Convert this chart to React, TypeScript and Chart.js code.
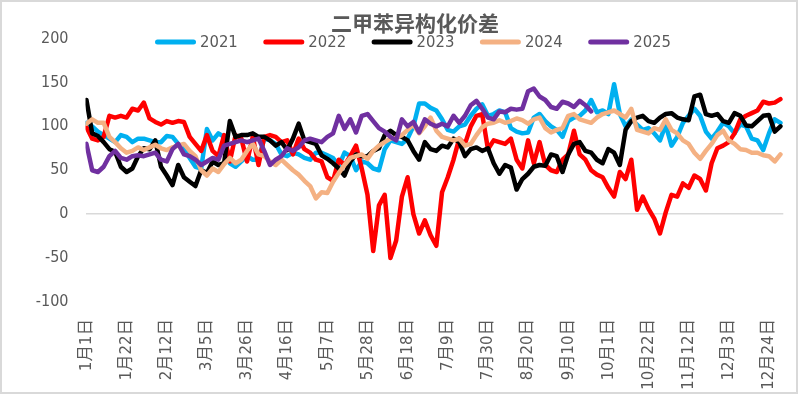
import React, { useEffect, useRef } from 'react';
import { Chart, registerables } from 'chart.js';

Chart.register(...registerables);

const TITLE = '二甲苯异构化价差';
const SERIES_NAMES = ['2021', '2022', '2023', '2024', '2025'];
const TICK_LABELS = [
  '1月1日', '1月22日', '2月12日', '3月5日', '3月26日', '4月16日', '5月7日', '5月28日', '6月18日',
  '7月9日', '7月30日', '8月20日', '9月10日', '10月1日', '10月22日', '11月12日', '12月3日', '12月24日',
];
const TICK_EVERY_DAYS = 21;
const SAMPLE_EVERY_DAYS = 3;
const DAYS_IN_YEAR = 365;

// sampled every 3 days from Jan 1
const V2021 = [
  104, 100, 94, 90, 86, 82, 90, 88, 82, 86,
  86, 84, 82, 82, 89, 88, 80, 74, 64, 54,
  52, 97, 84, 92, 88, 58, 54, 60, 66, 62,
  62, 86, 84, 80, 68, 66, 70, 68, 64, 62,
  70, 70, 67, 64, 55, 70, 66, 50, 60, 58,
  52, 50, 74, 84, 82, 80, 86, 100, 126, 126,
  121, 118, 108, 96, 94, 100, 102, 112, 120, 125,
  112, 114, 118, 116, 98, 94, 92, 93, 110, 114,
  106, 100, 96, 88, 106, 110, 112, 118, 130, 116,
  118, 114, 148, 114, 100, 108, 102, 96, 98, 92,
  84, 102, 78, 88, 104, 112, 120, 112, 94, 86,
  94, 104, 100, 92, 102, 100, 86, 84, 73, 92,
  108, 104,
];
const V2022 = [
  99, 86, 84, 88, 112, 110, 112, 110, 120, 118,
  127, 109, 105, 102, 106, 104, 106, 105, 88, 80,
  72, 90, 72, 66, 90, 60, 90, 86, 60, 88,
  56, 88, 90, 88, 82, 84, 68, 86, 74, 70,
  62, 60, 42, 38, 62, 56, 66, 78, 52, 22,
  -42, 10, 22, -50, -30, 20, 42, 0, -22, -7,
  -24, -36, 25, 42, 62, 86, 80, 100, 112, 114,
  74, 84, 82, 80, 86, 62, 52, 84, 58, 82,
  56, 50, 48, 62, 68, 95, 68, 62, 50, 45,
  42, 30, 20, 48, 40, 62, 5, 20, 6, -5,
  -22, 2, 22, 20, 35, 30, 44, 40, 27, 58,
  75, 78, 82, 92, 108, 112, 115, 118, 128, 126,
  127, 131,
];
const V2023 = [
  130, 92, 89, 82, 74, 71, 54, 48, 52, 66,
  75, 74, 84, 54, 44, 33, 56, 42, 37, 32,
  50, 47, 60, 56, 58, 106, 88, 90, 90, 92,
  88, 88, 84, 78, 82, 73, 86, 103, 84, 82,
  80, 67, 63, 58, 52, 44, 60, 68, 66, 66,
  72, 75, 90, 95, 90, 88, 84, 72, 62, 82,
  74, 72, 78, 76, 86, 82, 66, 74, 76, 72,
  75, 58, 46, 56, 53, 28, 40, 46, 54, 56,
  55, 68, 66, 48, 68, 80, 82, 72, 70, 62,
  58, 74, 70, 56, 96, 106, 110, 112, 106, 104,
  110, 114, 115, 110, 108, 107, 134, 136, 114, 112,
  114, 106, 104, 115, 112, 101, 100, 106, 112, 113,
  94, 100,
];
const V2024 = [
  103, 108, 104, 104, 88, 82, 75, 70, 72, 76,
  73, 76, 79, 75, 73, 76, 78, 80, 72, 66,
  50, 44, 52, 48, 57, 64, 58, 62, 72, 80,
  68, 66, 60, 56, 62, 56, 50, 45, 38, 32,
  18, 25, 24, 37, 47, 56, 64, 66, 68, 63,
  72, 78, 82, 86, 87, 90, 96, 102, 92, 100,
  110, 95, 88, 86, 84, 86, 78, 80, 90, 99,
  103, 104, 107, 104, 106, 109, 107, 103, 108, 110,
  98, 93, 96, 98, 112, 114, 108, 106, 104, 110,
  114, 116, 118, 114, 110, 120, 96, 94, 92, 98,
  96, 108, 96, 92, 84, 80, 70, 63, 72, 80,
  90, 95, 84, 80, 74, 73, 70, 70, 67, 66,
  60, 68,
];
const V2025 = [
  80, 50, 48, 54, 66, 72, 64, 62, 66, 67,
  66, 68, 70, 62, 60, 74, 80, 68, 66, 62,
  56, 60, 64, 62, 78, 80, 82, 84, 82, 84,
  86, 72, 56, 62, 66, 75, 72, 76, 84, 86,
  84, 82, 88, 92, 112, 97, 108, 93, 112, 114,
  106, 98, 94, 88, 84, 108, 100, 105, 93, 108,
  103, 100, 103, 100, 112, 104, 112, 124, 129, 120,
  110, 108, 117, 116, 120, 119, 120, 140, 143, 134,
  130, 122, 120, 128, 126, 122, 129, 124, 117,
];

const SERIES_VALUES = [V2021, V2022, V2023, V2024, V2025];
const COLORS = ['#00B0F0', '#FF0000', '#000000', '#F4B183', '#7030A0'];

const TEXT_COLOR = '#595959';
const NUM_FONT = '"DejaVu Sans Condensed", "Noto Sans CJK SC", sans-serif';

const titleLegendPlugin = {
  id: 'titleLegend',
  afterDraw(chart: any) {
    const ctx = chart.ctx;
    ctx.save();
    // title
    ctx.fillStyle = TEXT_COLOR;
    ctx.textAlign = 'center';
    ctx.textBaseline = 'middle';
    ctx.font = 'bold 21px "Noto Sans CJK SC", sans-serif';
    ctx.fillText(TITLE, 415, 23);
    // legend
    ctx.font = `16.5px ${NUM_FONT}`;
    ctx.textAlign = 'left';
    const y = 42;
    chart.data.datasets.forEach((ds: any, i: number) => {
      const x0 = 157.5 + i * 108.3;
      ctx.strokeStyle = ds.borderColor;
      ctx.lineWidth = 5;
      ctx.lineCap = 'round';
      ctx.beginPath();
      ctx.moveTo(x0, y);
      ctx.lineTo(x0 + 36, y);
      ctx.stroke();
      ctx.fillText(ds.label, x0 + 42.5, y + 1);
    });
    ctx.restore();
  },
};

export default function App() {
  const ref = useRef<HTMLCanvasElement | null>(null);

  useEffect(() => {
    if (!ref.current) return;
    const datasets = SERIES_NAMES.map((name, s) => ({
      label: name,
      data: SERIES_VALUES[s].map((v, i) => ({ x: i * SAMPLE_EVERY_DAYS, y: v })),
      borderColor: COLORS[s],
      backgroundColor: COLORS[s],
      borderWidth: 4.5,
      pointRadius: 0,
      tension: 0,
      borderJoinStyle: 'round' as const,
      borderCapStyle: 'round' as const,
      order: SERIES_NAMES.length - s,
    }));

    const chart = new Chart(ref.current, {
      type: 'line',
      data: { datasets },
      plugins: [titleLegendPlugin],
      options: {
        responsive: false,
        animation: false,
        devicePixelRatio: 1,
        layout: { padding: { top: 38.5, right: 11.6, left: 0, bottom: 0 } },
        plugins: {
          legend: { display: false },
          tooltip: { enabled: false },
          title: { display: false },
        },
        scales: {
          x: {
            type: 'linear',
            min: -0.5,
            max: DAYS_IN_YEAR - 0.5,
            grid: { display: false },
            border: { display: false },
            afterBuildTicks: (scale: any) => {
              scale.ticks = TICK_LABELS.map((_, i) => ({ value: i * TICK_EVERY_DAYS }));
            },
            afterFit: (scale: any) => {
              scale.height = 92;
            },
            ticks: {
              autoSkip: false,
              minRotation: 90,
              maxRotation: 90,
              padding: 9,
              color: TEXT_COLOR,
              font: { family: NUM_FONT, size: 16.5 },
              callback: (_v: any, i: number) => TICK_LABELS[i],
            },
          },
          y: {
            min: -100,
            max: 200,
            afterFit: (scale: any) => {
              scale.width = 85.5;
            },
            grid: {
              drawTicks: false,
              color: (c: any) => (c.tick && c.tick.value === 0 ? '#D9D9D9' : 'rgba(0,0,0,0)'),
              lineWidth: 1.5,
            },
            border: { display: false },
            ticks: {
              stepSize: 50,
              padding: 17,
              color: TEXT_COLOR,
              font: { family: NUM_FONT, size: 16 },
            },
          },
        },
      },
    });
    return () => chart.destroy();
  }, []);

  return (
    <div style={{ position: 'absolute', left: 0, top: 0, width: 798, height: 394, background: '#fff' }}>
      <canvas ref={ref} width={798} height={394} style={{ display: 'block', width: 798, height: 394 }} />
      <div
        style={{
          position: 'absolute', left: 0, top: 0, width: 798, height: 394, boxSizing: 'border-box',
          border: '2px solid #D9D9D9', pointerEvents: 'none',
        }}
      />
    </div>
  );
}
